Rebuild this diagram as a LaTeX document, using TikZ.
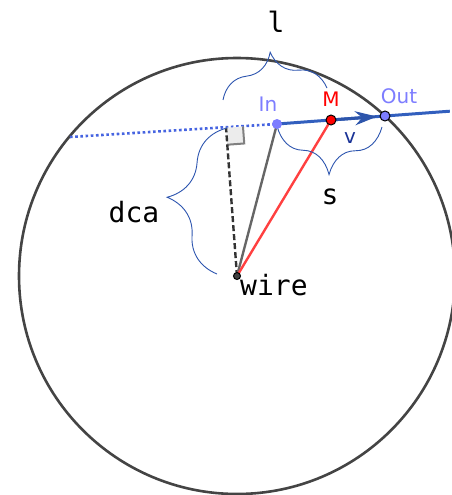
\documentclass[tikz,border=0pt]{standalone}
\usepackage{fontspec}
\setmainfont{DejaVu Sans}
\setmonofont{DejaVu Sans Mono}
\usepackage{tikz}
\usetikzlibrary{positioning,arrows.meta,calc,decorations.pathreplacing}
\definecolor{rimcolor}{RGB}{68,68,68}
\definecolor{linecolor}{RGB}{50,95,190}
\definecolor{dotcolor}{RGB}{70,100,225}
\definecolor{bracecolor}{RGB}{45,85,175}
\definecolor{pointcolor}{RGB}{125,125,255}
\definecolor{vcolor}{RGB}{25,50,150}
\tikzset{
  sans label/.style={
    font=\fontsize{20}{20}\selectfont,
    inner sep=0pt
  },
  mono label/.style={
    font=\ttfamily\fontsize{28}{28}\selectfont,
    inner sep=0pt
  },
  curly/.style={
    decorate,
    decoration={brace, amplitude=#1},
    draw=bracecolor,
    line width=0.9pt
  },
  point dot/.style={
    circle,
    inner sep=0pt,
    minimum size=10pt,
    line width=1pt
  }
}

\begin{document}
\begin{tikzpicture}[x=1pt,y=-1pt]
  \useasboundingbox (0,0) rectangle (451,495);

  % Points
  \coordinate (wire) at (237,276);
  \coordinate (In) at (277,124);
  \coordinate (M) at (331,120);
  \coordinate (Out) at (385,116);
  \coordinate (entry) at (70,137);
  \coordinate (far) at ($(In)!1.6!(Out)$);
  \coordinate (foot) at ($(In)!(wire)!(Out)$);
  \coordinate (sqa) at ($(foot)!17pt!(Out)$);
  \coordinate (sqb) at ($(foot)!17pt!(wire)$);
  \coordinate (sqc) at ($(sqa)+(sqb)-(foot)$);

  % Circle
  \draw[rimcolor, line width=2.6pt] (wire) circle (218);

  % Track
  \draw[dotcolor, line width=2.6pt, dash pattern=on 2.6pt off 2.6pt] (entry) -- (In);
  \draw[linecolor, line width=3pt] (In) -- (far);
  \draw[linecolor!90!black, line width=3pt, -{Stealth[length=22pt,width=14pt]}, shorten >=8pt] (M) -- (Out);

  % Right angle and distances
  \fill[gray!15] (foot) -- (sqa) -- (sqc) -- (sqb) -- cycle;
  \draw[gray, line width=2pt] (sqa) -- (sqc) -- (sqb);
  \draw[black!80, line width=2.4pt, dash pattern=on 6pt off 3pt] (wire) -- (foot);
  \draw[black!60, line width=2.4pt] (wire) -- (In);
  \draw[red!75, line width=2.4pt] (wire) -- (M);

  % Braces
  \draw[curly=42] (223,100) -- (327,88);
  \draw[curly=48] (382,127) -- (277,126);
  \draw[curly=55] (217,274) -- (227,128);

  % Dots
  \node[point dot, fill=black!75, draw=black, minimum size=7pt] (wiredot) at (wire) {};
  \node[point dot, fill=pointcolor] (Indot) at (In) {};
  \node[point dot, fill=red, draw=black] (Mdot) at (M) {};
  \node[point dot, fill=pointcolor, draw=black] (Outdot) at (Out) {};

  % Labels
  \node[sans label, pointcolor] (Intext) at (268,104) {In};
  \node[sans label, red] (Mtext) at (331,99) {M};
  \node[sans label, pointcolor] (Outtext) at (399,96) {Out};
  \node[sans label, vcolor] (vtext) at (350,138) {v};
  \node[mono label] (ltext) at (276,22) {l};
  \node[mono label] (stext) at (330,197) {s};
  \node[mono label] (dcatext) at (134,212) {dca};
  \node[mono label, anchor=base west] (wiretext) at (240,295) {wire};
\end{tikzpicture}
\end{document}
